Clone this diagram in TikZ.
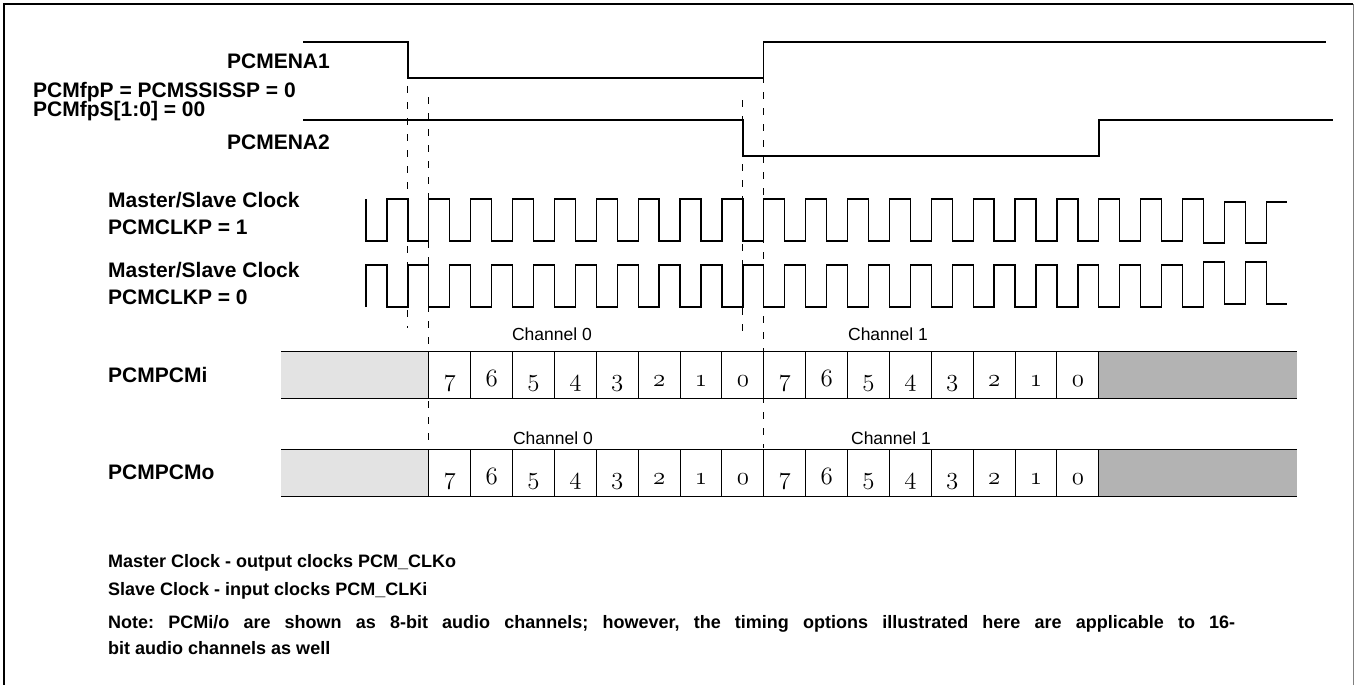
\documentclass[tikz,border=0pt]{standalone}
\usepackage{fontspec}
\setmainfont{Liberation Sans}
\usetikzlibrary{positioning}
\frenchspacing

\definecolor{idlelite}{HTML}{E3E3E3}
\definecolor{idledark}{HTML}{B3B3B3}
\newcommand{\bitfont}{\fontsize{29}{30}\usefont{OML}{cmm}{m}{it}}

\tikzset{
  wave/.style={line width=1.3pt},
  guide/.style={line width=1pt, dash pattern=on 7pt off 9pt},
  sig/.style={font=\bfseries\fontsize{21}{21}\selectfont, inner sep=0pt},
  note/.style={font=\bfseries\fontsize{18}{18}\selectfont, inner sep=0pt, anchor=base west},
  chan/.style={font=\fontsize{17.5}{17.5}\selectfont, inner sep=0pt, anchor=base},
  bitcell/.style={draw, fill=white, line width=1pt, minimum width=41.875pt,
    minimum height=47pt, inner sep=0pt, text height=26pt, text depth=3pt, font=\bitfont},
}

\begin{document}
\begin{tikzpicture}[x=1pt,y=-1pt]
  \useasboundingbox (0,0) rectangle (1355,685);

  % Frame
  \draw[line width=1.3pt] (4,685) -- (4,4) -- (1353,4);
  \draw[gray,line width=1pt] (1353,4) -- (1353,685);

  % Enable strobes
  \draw[wave] (303,42) -- (407.9,42) -- (407.9,78) -- (763.8,78) -- (763.8,42) -- (1326,42);
  \draw[wave] (303,120) -- (742.9,120) -- (742.9,156) -- (1099,156) -- (1099,120) -- (1333,120);

  % Frame sync markers
  \draw[guide] (407.9,70) -- (407.9,328);
  \draw[guide] (428.8,97) -- (428.8,448);
  \draw[guide] (742.9,100) -- (742.9,337);
  \draw[guide] (763.8,60) -- (763.8,448);

  % Clocks, one bit per period
  \draw[wave] (366,199) \foreach \i [evaluate=\i as \yy using {(\i<40 ? (mod(\i,2)==0 ? 241 : 199) : (mod(\i,2)==0 ? 243 : 202))}] in {0,...,43}
    { -- ({366+\i*20.9375},\yy) -- ({366+(\i+1)*20.9375},\yy) };
  \draw[wave] (366,307) \foreach \i [evaluate=\i as \yy using {(\i<40 ? (mod(\i,2)==0 ? 265 : 307) : (mod(\i,2)==0 ? 262 : 304))}] in {0,...,43}
    { -- ({366+\i*20.9375},\yy) -- ({366+(\i+1)*20.9375},\yy) };

  % Data rows
  \fill[idlelite] (281,351) rectangle (428.8,398);
  \fill[idledark] (1099,351) rectangle (1297,398);
  \fill[idlelite] (281,449) rectangle (428.8,496);
  \fill[idledark] (1099,449) rectangle (1297,496);
  \draw[line width=1pt] (281,351) -- (1297,351) (281,398) -- (1297,398);
  \draw[line width=1pt] (281,449) -- (1297,449) (281,496) -- (1297,496);
  \foreach \b [count=\c from 0] in {7,6,5,4,3,2,1,0,7,6,5,4,3,2,1,0} {
    \node[bitcell] (rx\c) at ({428.8+(\c+0.5)*41.875},374.5) {\b};
    \node[bitcell] (tx\c) at ({428.8+(\c+0.5)*41.875},472.5) {\b};
  }

  % Labels
  \node[sig,anchor=base east] (ena1) at (330,69) {PCMENA1};
  \node[sig,anchor=base west] (fpp) at (33,98) {PCMfpP = PCMSSISSP = 0};
  \node[sig,anchor=base west] (fps) at (33,117) {PCMfpS[1:0] = 00};
  \node[sig,anchor=base east] (ena2) at (330,149) {PCMENA2};
  \node[sig,anchor=base west] (clk1a) at (108,207) {Master/Slave Clock};
  \node[sig,anchor=base west] (clk1b) at (108,234) {PCMCLKP = 1};
  \node[sig,anchor=base west] (clk0a) at (108,277) {Master/Slave Clock};
  \node[sig,anchor=base west] (clk0b) at (108,304) {PCMCLKP = 0};
  \node[sig,anchor=base west] (pcmi) at (108,382) {PCMPCMi};
  \node[sig,anchor=base west] (pcmo) at (108,479) {PCMPCMo};
  \node[chan] (ch0i) at (552,340) {Channel 0};
  \node[chan] (ch1i) at (888,340) {Channel 1};
  \node[chan] (ch0o) at (553,444) {Channel 0};
  \node[chan] (ch1o) at (891,444) {Channel 1};

  % Notes
  \node[note] (mclk) at (108,567) {Master Clock - output clocks PCM\_CLKo};
  \node[note] (sclk) at (108,595) {Slave Clock - input clocks PCM\_CLKi};
  \node[note] (nte1) at (108,628) {\makebox[1127pt][s]{Note: PCMi/o are shown as 8-bit audio channels; however, the timing options illustrated here are applicable to 16-}};
  \node[note] (nte2) at (108,654) {bit audio channels as well};
\end{tikzpicture}
\end{document}
